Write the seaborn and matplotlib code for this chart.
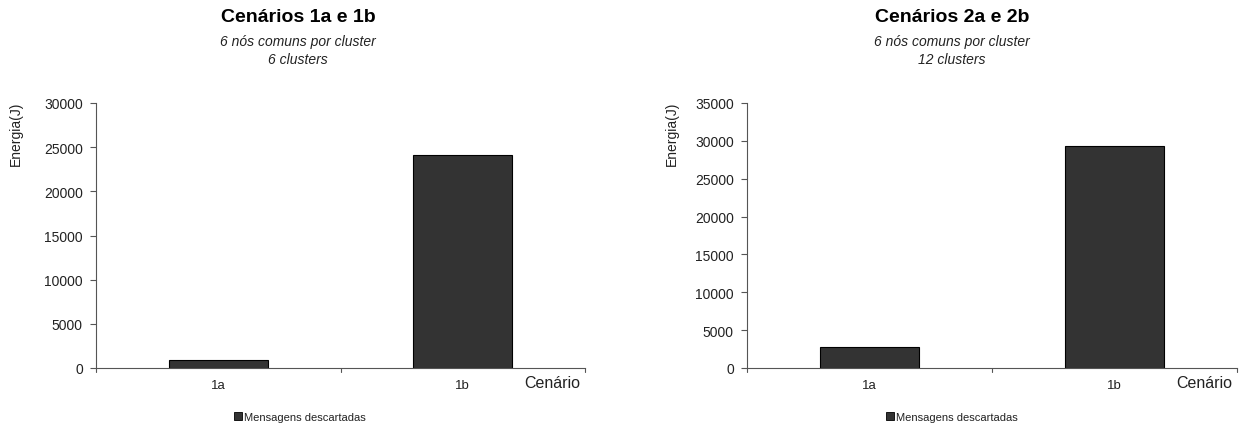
import matplotlib
matplotlib.use("Agg")
import matplotlib.pyplot as plt
import seaborn as sns
import pandas as pd
from matplotlib.patches import Patch

# Data
cenarios = ["1a", "1b"]
energia_1 = [850, 24100]
energia_2 = [2800, 29300]
serie = "Mensagens descartadas"

titulos = ["Cenários 1a e 1b", "Cenários 2a e 2b"]
subtitulos = ["6 nós comuns por cluster\n6 clusters", "6 nós comuns por cluster\n12 clusters"]
ylims = [30000, 35000]

sns.set_theme(style="white")
plt.rcParams["font.family"] = ["Liberation Sans", "DejaVu Sans"]

W, H = 1241, 427
fig = plt.figure(figsize=(W / 100, H / 100), dpi=100)

def fx(px):
    return px / W

def fy(py):
    return 1 - py / H

panels = [
    dict(values=energia_1, left=96, right=585, title_x=298, ylab_x=16, leg_x=300),
    dict(values=energia_2, left=747, right=1237, title_x=952, ylab_x=672, leg_x=952),
]

bar_color = "#333333"
axis_color = "#555555"
text_color = "#222222"

for i, p in enumerate(panels):
    top, bottom = 104, 369
    ax = fig.add_axes([fx(p["left"]), fy(bottom), fx(p["right"] - p["left"]), (bottom - top) / H])
    df = pd.DataFrame({"Cenário": cenarios, "Energia": p["values"], "Série": serie})
    sns.barplot(data=df, x="Cenário", y="Energia", color=bar_color, width=0.405,
                edgecolor="black", linewidth=0.8, saturation=1, ax=ax)
    ax.set_xlim(-0.5, 1.5)
    ax.set_ylim(0, ylims[i])
    ticks = list(range(0, ylims[i] + 1, 5000))
    ax.set_yticks(ticks)
    ax.set_yticklabels([str(v) for v in ticks], fontsize=10, color=text_color)
    ax.set_xticks([0, 1])
    ax.set_xticklabels(cenarios, fontsize=9.5, color=text_color)
    ax.tick_params(axis="x", length=0, pad=8)
    ax.tick_params(axis="y", length=4.5, width=0.8, color=axis_color, direction="out",
                   left=True, pad=5)
    # category separator ticks on the x axis
    for xt in [-0.5, 0.5, 1.5]:
        ax.plot([xt, xt], [0, -0.015], transform=ax.get_xaxis_transform(), color=axis_color,
                lw=0.8, clip_on=False)
    for s in ["top", "right"]:
        ax.spines[s].set_visible(False)
    for s in ["left", "bottom"]:
        ax.spines[s].set_color(axis_color)
        ax.spines[s].set_linewidth(0.8)
    ax.set_xlabel("")
    ax.set_ylabel("")

    fig.text(fx(p["title_x"]), fy(18), titulos[i], ha="center", va="center",
             fontsize=14, fontweight="bold", color="black")
    fig.text(fx(p["title_x"]), fy(42), subtitulos[i].split("\n")[0], ha="center", va="center",
             fontsize=10, style="italic", color=text_color)
    fig.text(fx(p["title_x"]), fy(60), subtitulos[i].split("\n")[1], ha="center", va="center",
             fontsize=10, style="italic", color=text_color)
    fig.text(fx(p["ylab_x"]), fy(134), "Energia(J)", rotation=90, ha="center", va="center",
             fontsize=10, color=text_color)
    fig.text(fx(p["right"] - 5), fy(384), "Cenário", ha="right", va="center",
             fontsize=11.5, color=text_color)
    fig.legend(handles=[Patch(facecolor=bar_color, edgecolor="black", linewidth=0.6, label=serie)],
               loc="center", bbox_to_anchor=(fx(p["leg_x"]), fy(418)), frameon=False,
               fontsize=8, handlelength=0.75, handleheight=0.75, handletextpad=0.2,
               borderpad=0, labelcolor=text_color)

fig.savefig("out.png", dpi=100, facecolor="white")
